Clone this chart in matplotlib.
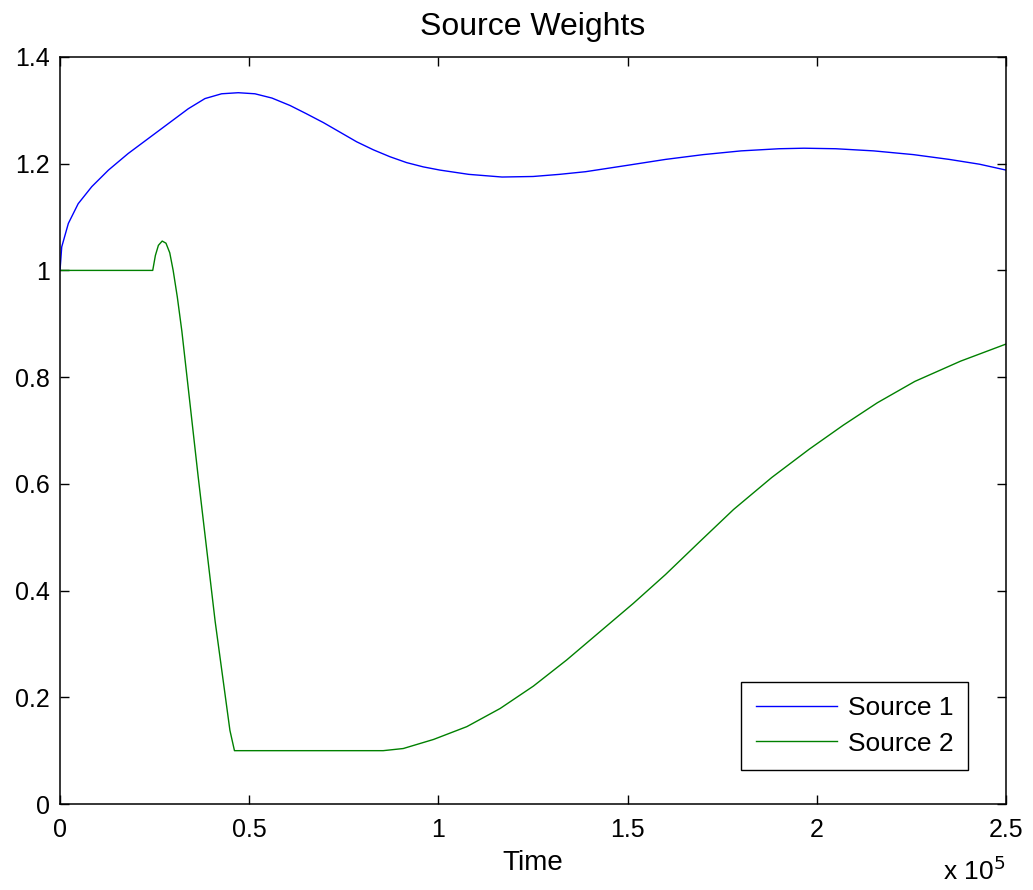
import matplotlib.pyplot as plt
import numpy as np
from matplotlib.ticker import FuncFormatter

plt.rcParams['font.family'] = ['Liberation Sans', 'DejaVu Sans']

# time in units of 1e3
t1 = np.array([0, 0.45, 2.2, 4.8, 8.4, 12.8, 18.0, 23.3, 28.6, 33.9, 38.3, 42.7,
               47.1, 51.5, 56, 60.8, 65, 69.6, 74, 78.4, 82.8, 87.2, 91.6, 96.0,
               100.4, 108, 116.8, 125, 132, 138.9, 150, 160, 170, 180, 190, 196.6,
               205, 215, 225.5, 235, 243, 250])
source1 = np.array([1.0, 1.044, 1.088, 1.125, 1.157, 1.188, 1.219, 1.247, 1.275,
                    1.303, 1.322, 1.331, 1.333, 1.331, 1.323, 1.309, 1.294, 1.277,
                    1.259, 1.241, 1.226, 1.213, 1.202, 1.194, 1.188, 1.180, 1.175,
                    1.176, 1.180, 1.185, 1.197, 1.208, 1.217, 1.224, 1.228, 1.229,
                    1.228, 1.224, 1.217, 1.208, 1.199, 1.188])

t2 = np.array([0, 24.5, 25.2, 26.0, 27.0, 28.0, 29.0, 29.9, 31.0, 32.2, 34.4, 36.5,
               38.8, 41.0, 43.2, 44.9, 46.1, 60, 85.4, 90.7, 98.7, 107.5, 116.3,
               125.1, 133.9, 142.7, 151.5, 160, 169.1, 178, 188.1, 198, 207, 216,
               225.9, 238, 250])
source2 = np.array([1.0, 1.0, 1.028, 1.047, 1.055, 1.051, 1.033, 1.0, 0.95, 0.886,
                    0.747, 0.614, 0.475, 0.342, 0.227, 0.138, 0.10, 0.10, 0.10,
                    0.104, 0.121, 0.145, 0.179, 0.221, 0.27, 0.323, 0.376, 0.43,
                    0.492, 0.552, 0.612, 0.665, 0.71, 0.752, 0.792, 0.830, 0.862])

fig = plt.figure(figsize=(10.33, 8.9), dpi=100)
ax = fig.add_axes([0.0581, 0.0966, 0.9158, 0.8394])

# plot in units of 1e5 (MATLAB-style exponent label below)
ax.plot(t1 * 1e3 / 1e5, source1, color=(0, 0, 1), lw=1.0, label='Source 1')
ax.plot(t2 * 1e3 / 1e5, source2, color=(0, 0.5, 0), lw=1.0, label='Source 2')

ax.set_xlim(0, 2.5)
ax.set_ylim(0, 1.4)
ax.set_xticks(np.arange(0, 2.51, 0.5))
ax.set_yticks(np.arange(0, 1.41, 0.2))
fmt = FuncFormatter(lambda v, p: '%g' % round(v, 2))
ax.xaxis.set_major_formatter(fmt)
ax.yaxis.set_major_formatter(fmt)
ax.tick_params(direction='in', length=6.7, width=1, labelsize=18,
               top=True, right=True)
ax.tick_params(axis='x', pad=10)
ax.tick_params(axis='y', pad=7.5)
for s in ax.spines.values():
    s.set_linewidth(1.1)

ax.set_title('Source Weights', fontsize=23, pad=16)
ax.set_xlabel('Time', fontsize=20, labelpad=6)
fig.text(0.973, 0.006, r'x 10$^{5}$', fontsize=19, ha='right', va='bottom')

leg = ax.legend(loc='lower right', bbox_to_anchor=(0.9598, 0.0455), fontsize=19,
                fancybox=False, framealpha=1, edgecolor='black',
                handlelength=3.1, borderaxespad=0, borderpad=0.55,
                labelspacing=0.42, handletextpad=0.4)
leg.get_frame().set_linewidth(1.0)

fig.savefig('out.png', dpi=100)
